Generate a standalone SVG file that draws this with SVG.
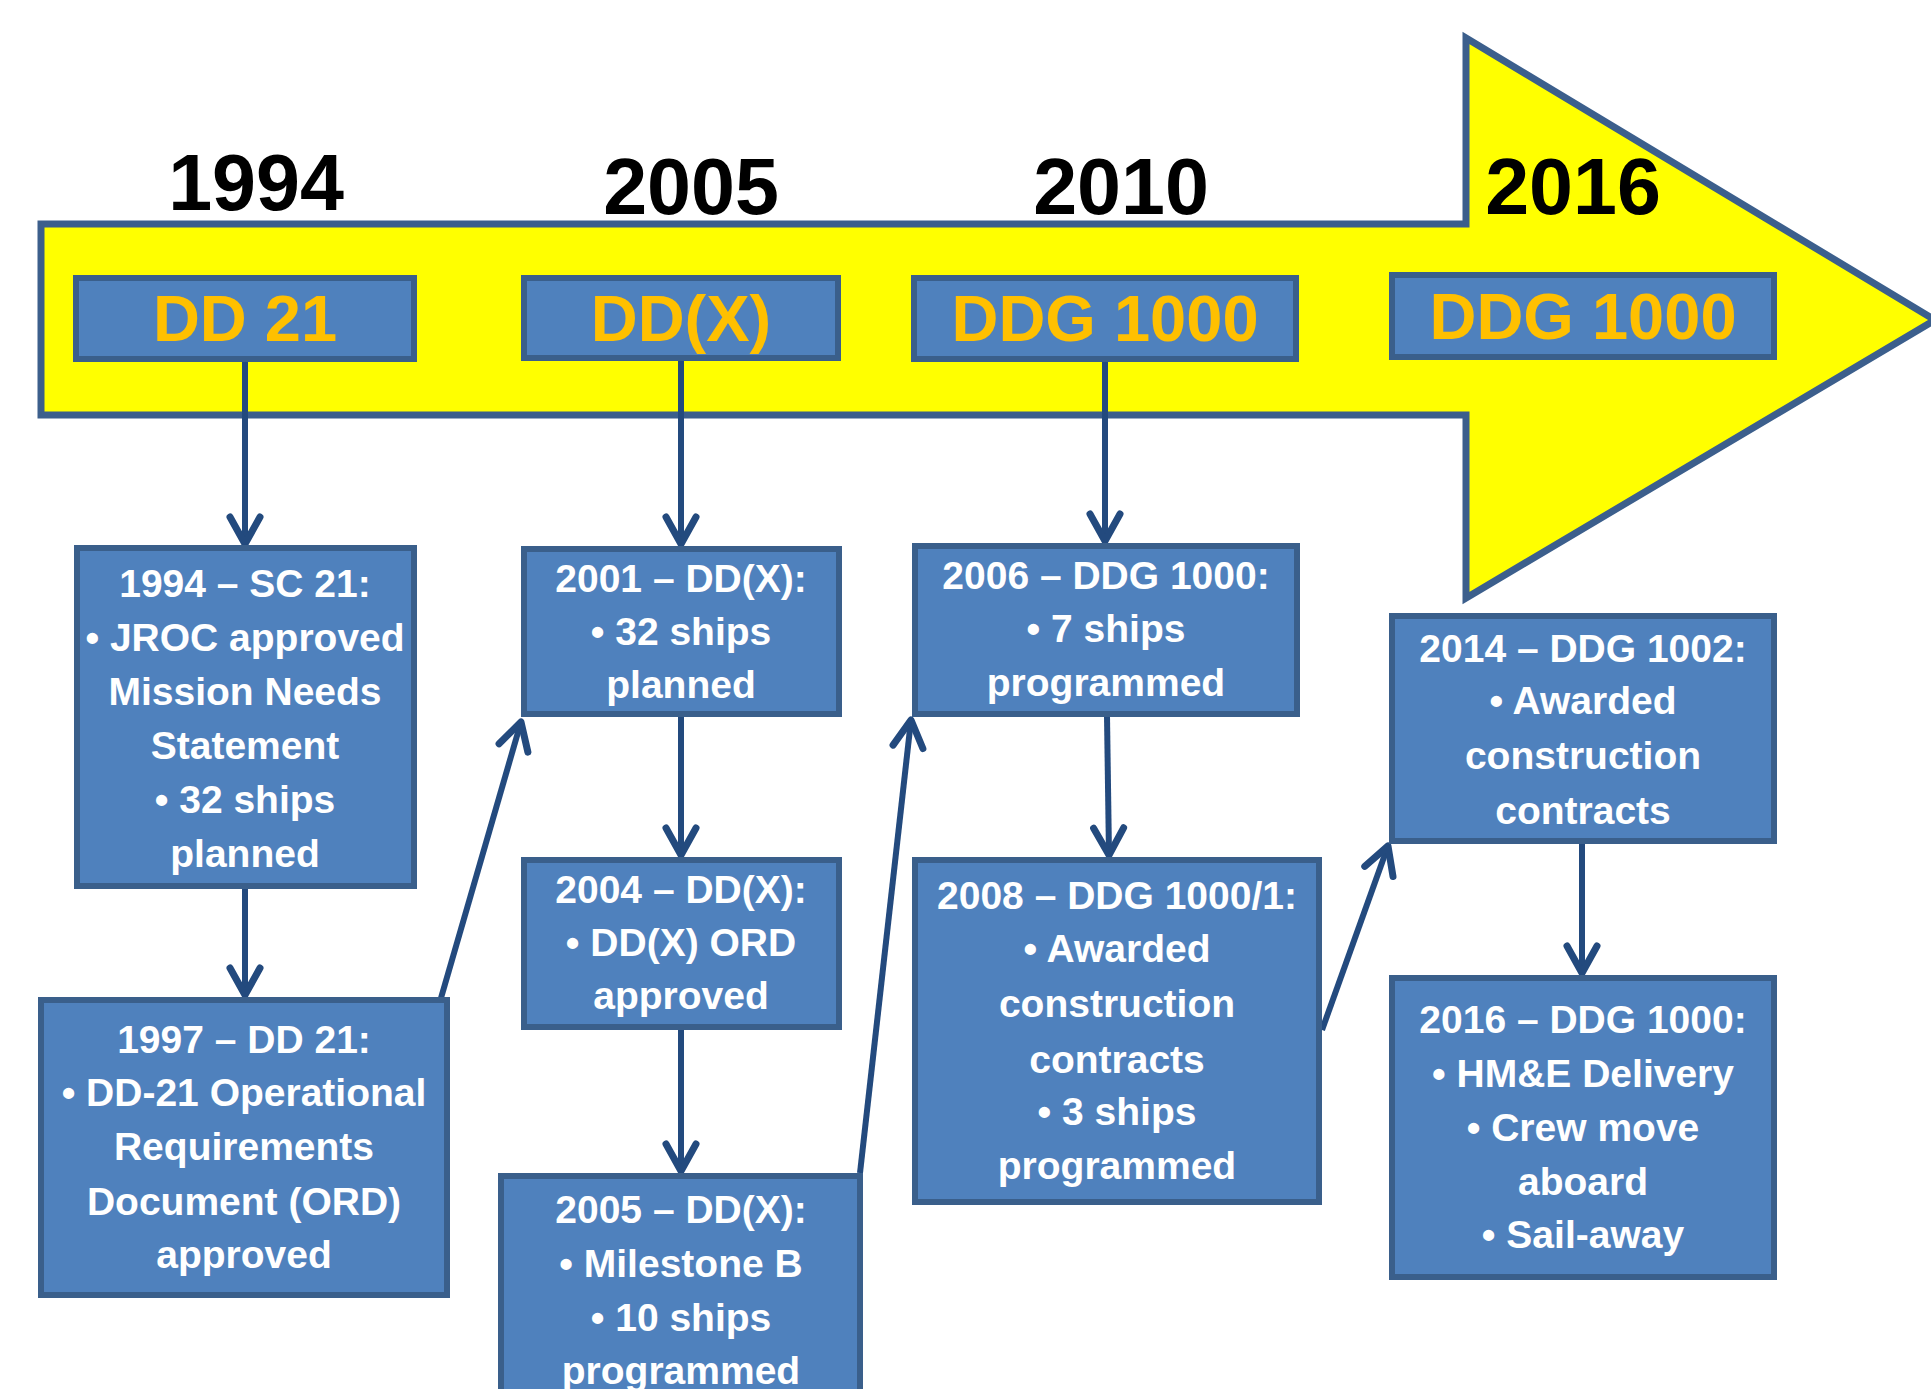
<svg xmlns="http://www.w3.org/2000/svg" width="1931" height="1389" viewBox="0 0 1931 1389">
<style>
.box{fill:#4F81BD;stroke:#3A5F8B;stroke-width:6;}
.year{font-family:"Liberation Sans",Arial,sans-serif;font-weight:bold;font-size:79px;fill:#000;text-anchor:middle;}
.hdr{font-family:"Liberation Sans",Arial,sans-serif;font-weight:bold;font-size:65px;fill:#FFC000;text-anchor:middle;}
.txt{font-family:"Liberation Sans",Arial,sans-serif;font-weight:bold;font-size:39px;fill:#FFFFFF;text-anchor:middle;}
.conn{stroke:#234A7E;stroke-width:6;fill:none;marker-end:url(#arr);}
</style>
<defs>
<marker id="arr" markerUnits="userSpaceOnUse" viewBox="-34 -22 40 44" refX="0" refY="0" markerWidth="40" markerHeight="44" orient="auto">
<path d="M-27,-15 L0,0 L-27,15" fill="none" stroke="#234A7E" stroke-width="7" stroke-linecap="round" stroke-linejoin="round"/>
</marker>
</defs>
<rect width="1931" height="1389" fill="#FFFFFF"/>
<g id="timeline">
<path d="M41,224 L1466,224 L1466,38 L1935,320 L1466,598 L1466,415 L41,415 Z" fill="#FFFF00" stroke="#3C5F8C" stroke-width="7" stroke-linejoin="miter"/>
<text class="year" x="256" y="210">1994</text>
<text class="year" x="691" y="214">2005</text>
<text class="year" x="1121" y="214">2010</text>
<text class="year" x="1573" y="214">2016</text>
</g>
<g id="connectors">
<line class="conn" x1="245" y1="361" x2="245" y2="544"/>
<line class="conn" x1="245" y1="889" x2="245" y2="995"/>
<line class="conn" x1="441" y1="998" x2="521" y2="722"/>
<line class="conn" x1="681" y1="359" x2="681" y2="544"/>
<line class="conn" x1="681" y1="716" x2="681" y2="855"/>
<line class="conn" x1="681" y1="1030" x2="681" y2="1171"/>
<line class="conn" x1="860" y1="1173" x2="911" y2="720"/>
<line class="conn" x1="1105" y1="361" x2="1105" y2="541"/>
<line class="conn" x1="1107" y1="716" x2="1109" y2="855"/>
<line class="conn" x1="1322" y1="1030" x2="1388" y2="846"/>
<line class="conn" x1="1582" y1="843" x2="1582" y2="973"/>
</g>
<g id="h-dd21">
<rect class="box" x="76" y="278" width="338" height="81"/>
<text class="hdr" x="245" y="341">DD 21</text>
</g>
<g id="h-ddx">
<rect class="box" x="524" y="278" width="314" height="80"/>
<text class="hdr" x="681" y="341">DD(X)</text>
</g>
<g id="h-ddg1000a">
<rect class="box" x="914" y="278" width="382" height="81"/>
<text class="hdr" x="1105" y="341">DDG 1000</text>
</g>
<g id="h-ddg1000b">
<rect class="box" x="1392" y="275" width="382" height="82"/>
<text class="hdr" x="1583" y="339">DDG 1000</text>
</g>
<g id="b1994">
<rect class="box" x="77" y="548" width="337" height="338"/>
<text class="txt" x="245" y="597">1994 – SC 21:</text>
<text class="txt" x="245" y="651">• JROC approved</text>
<text class="txt" x="245" y="705">Mission Needs</text>
<text class="txt" x="245" y="759">Statement</text>
<text class="txt" x="245" y="813">• 32 ships</text>
<text class="txt" x="245" y="867">planned</text>
</g>
<g id="b1997">
<rect class="box" x="41" y="1000" width="406" height="295"/>
<text class="txt" x="244" y="1053">1997 – DD 21:</text>
<text class="txt" x="244" y="1106">• DD-21 Operational</text>
<text class="txt" x="244" y="1160">Requirements</text>
<text class="txt" x="244" y="1215">Document (ORD)</text>
<text class="txt" x="244" y="1268">approved</text>
</g>
<g id="b2001">
<rect class="box" x="524" y="549" width="315" height="165"/>
<text class="txt" x="681" y="592">2001 – DD(X):</text>
<text class="txt" x="681" y="645">• 32 ships</text>
<text class="txt" x="681" y="698">planned</text>
</g>
<g id="b2004">
<rect class="box" x="524" y="860" width="315" height="167"/>
<text class="txt" x="681" y="903">2004 – DD(X):</text>
<text class="txt" x="681" y="956">• DD(X) ORD</text>
<text class="txt" x="681" y="1009">approved</text>
</g>
<g id="b2005">
<rect class="box" x="501" y="1176" width="359" height="300"/>
<text class="txt" x="681" y="1223">2005 – DD(X):</text>
<text class="txt" x="681" y="1277">• Milestone B</text>
<text class="txt" x="681" y="1331">• 10 ships</text>
<text class="txt" x="681" y="1384">programmed</text>
</g>
<g id="b2006">
<rect class="box" x="915" y="546" width="382" height="168"/>
<text class="txt" x="1106" y="589">2006 – DDG 1000:</text>
<text class="txt" x="1106" y="642">• 7 ships</text>
<text class="txt" x="1106" y="696">programmed</text>
</g>
<g id="b2008">
<rect class="box" x="915" y="860" width="404" height="342"/>
<text class="txt" x="1117" y="909">2008 – DDG 1000/1:</text>
<text class="txt" x="1117" y="962">• Awarded</text>
<text class="txt" x="1117" y="1017">construction</text>
<text class="txt" x="1117" y="1073">contracts</text>
<text class="txt" x="1117" y="1125">• 3 ships</text>
<text class="txt" x="1117" y="1179">programmed</text>
</g>
<g id="b2014">
<rect class="box" x="1392" y="616" width="382" height="225"/>
<text class="txt" x="1583" y="662">2014 – DDG 1002:</text>
<text class="txt" x="1583" y="714">• Awarded</text>
<text class="txt" x="1583" y="769">construction</text>
<text class="txt" x="1583" y="824">contracts</text>
</g>
<g id="b2016">
<rect class="box" x="1392" y="978" width="382" height="299"/>
<text class="txt" x="1583" y="1033">2016 – DDG 1000:</text>
<text class="txt" x="1583" y="1087">• HM&amp;E Delivery</text>
<text class="txt" x="1583" y="1141">• Crew move</text>
<text class="txt" x="1583" y="1195">aboard</text>
<text class="txt" x="1583" y="1248">• Sail-away</text>
</g>
</svg>
